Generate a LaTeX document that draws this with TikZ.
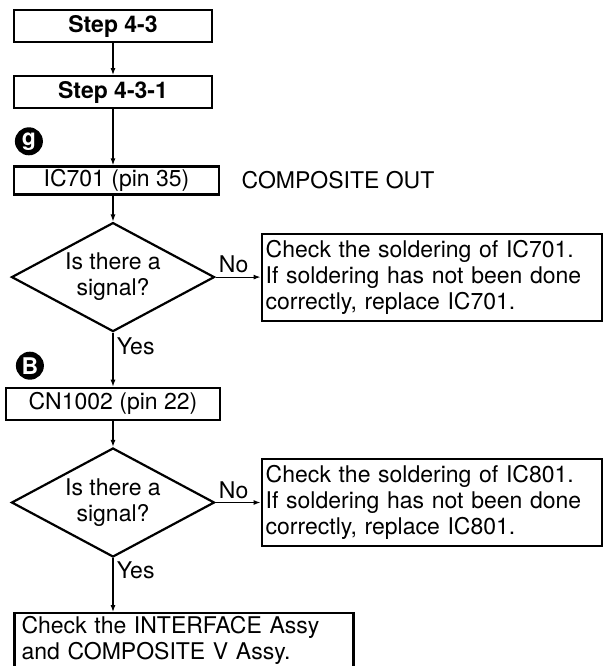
\documentclass[tikz,border=0pt]{standalone}
\usepackage{fontspec}
\setmainfont{TeX Gyre Heros}
\usetikzlibrary{shapes.geometric,arrows.meta,positioning}
\newcommand{\flowsize}{\fontsize{23pt}{26pt}\selectfont}
\tikzset{
    % Sharp-cornered boxes
    process/.style={
        rectangle,
        draw=black,
        line width=2.2pt,
        fill=white,
        text=black,
        minimum width=198pt,
        minimum height=32pt,
        inner sep=0pt,
        align=center,
        font=\flowsize
    },
    process bold/.style={
        process,
        font=\flowsize\bfseries
    },
    note box/.style={
        process,
        align=left,
        inner xsep=4pt,
        text width=332pt,
        minimum height=87pt
    },
    decision/.style={
        diamond,
        draw=black,
        line width=2.2pt,
        fill=white,
        text=black,
        minimum width=203pt,
        minimum height=109pt,
        inner sep=0pt,
        aspect=1.86,
        align=center,
        font=\flowsize
    },
    marker/.style={
        circle,
        fill=black,
        text=white,
        minimum size=28pt,
        inner sep=0pt,
        font=\flowsize\bfseries
    },
    arrow/.style={
        -{Latex[length=7pt,width=5pt]},
        line width=1.2pt,
        color=black
    },
    answer/.style={
        text=black,
        font=\flowsize
    }
}
\begin{document}
\begin{tikzpicture}
    \useasboundingbox (0,0) rectangle (605pt,-666pt);
    % Flow steps
    \node[process bold] (step43) at (113pt,-26pt) {Step 4-3};
    \node[process bold, below=32pt of step43] (step431) {Step 4-3-1};
    \node[process, below=56pt of step431, xshift=3.5pt,
          minimum width=205pt, minimum height=28pt] (ic701) {IC701 (pin 35)};
    \node[decision, below=26pt of ic701, xshift=-3.5pt] (dec1) {Is there a\\signal?};
    \node[process, below=54pt of dec1, minimum width=214pt] (cn1002) {CN1002 (pin 22)};
    \node[decision, below=26pt of cn1002] (dec2) {Is there a\\signal?};
    \node[process, below=54pt of dec2, xshift=71pt, align=left, inner xsep=7pt,
          text width=325pt, minimum height=55pt] (assy)
          {Check the INTERFACE Assy\\and COMPOSITE V Assy.};

    % Checks on the right
    \node[note box, right=45pt of dec1] (check1)
          {Check the soldering of IC701.\\If soldering has not been done\\correctly, replace IC701.};
    \node[note box, right=45pt of dec2] (check2)
          {Check the soldering of IC801.\\If soldering has not been done\\correctly, replace IC801.};
    \node[answer, right=18pt of ic701] (compout) {COMPOSITE OUT};

    % Test point marks
    \node[marker] (mark g) at ([xshift=16pt,yshift=24pt]ic701.north west) {g};
    \node[marker] (mark b) at ([xshift=25pt,yshift=21pt]cn1002.north west) {B};

    % Arrows
    \draw[arrow] (step43) -- (step431);
    \draw[arrow] (step431) -- (step431 |- ic701.north);
    \draw[arrow] (dec1 |- ic701.south) -- (dec1);
    \draw[arrow] (dec1) -- node[answer, above, pos=0.4] {No} (check1);
    \draw[arrow] (dec1) -- node[answer, right, pos=0.25] {Yes} (cn1002);
    \draw[arrow] (cn1002) -- (dec2);
    \draw[arrow] (dec2) -- node[answer, above, pos=0.4] {No} (check2);
    \draw[arrow] (dec2) -- node[answer, right, pos=0.22] {Yes} (dec2 |- assy.north);
\end{tikzpicture}
\end{document}
